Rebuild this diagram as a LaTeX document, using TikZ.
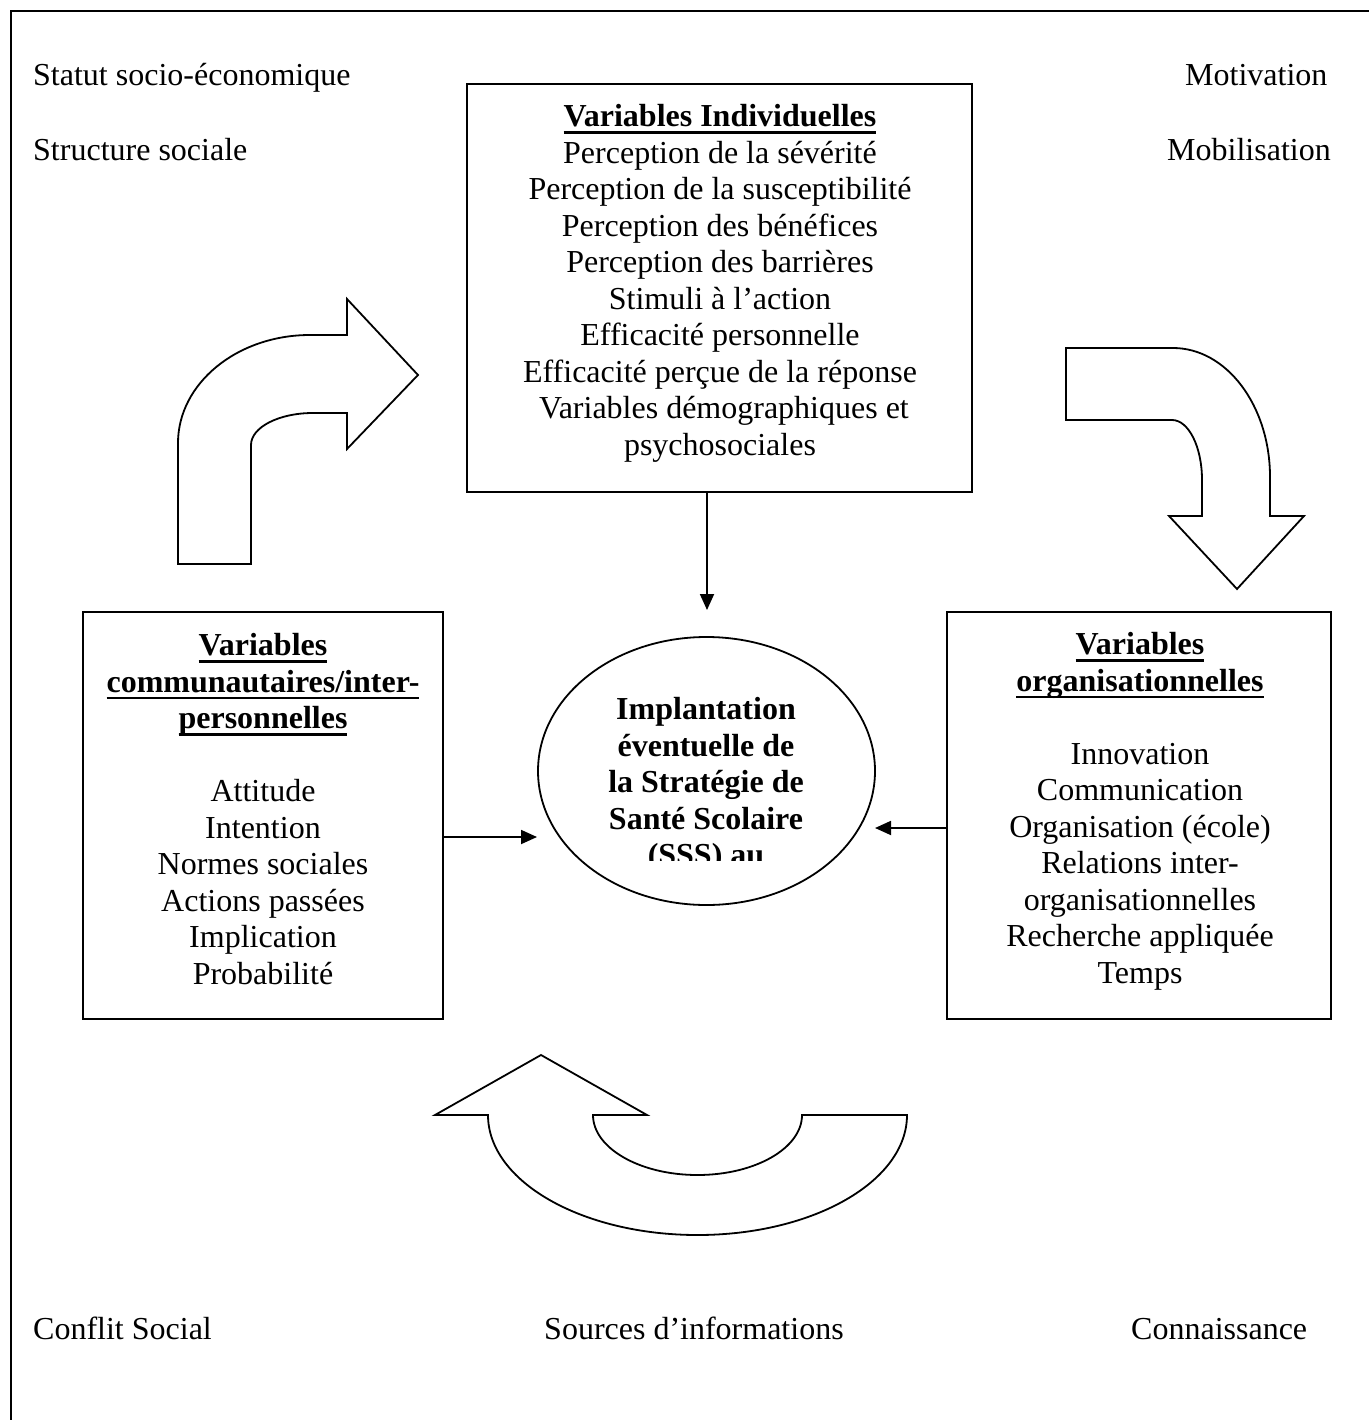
\documentclass[tikz,border=0pt]{standalone}
\usepackage{fontspec}
\setmainfont{Liberation Serif}
\usetikzlibrary{shapes.geometric,arrows.meta}

% bold heading with a thick underline
\newcommand{\ulhead}[1]{\setbox0\hbox{\bfseries #1}\leavevmode\rlap{\rule[-7pt]{\wd0}{2.6pt}}\box0}

\tikzset{
  frame/.style={line width=2.6pt},
  boxframe/.style={draw, rectangle, line width=1.8pt, inner sep=0pt},
  txt/.style={font=\fontsize{32}{36.5}\selectfont, align=center, inner sep=0pt},
  corner/.style={font=\fontsize{32}{36.5}\selectfont, inner sep=0pt, anchor=base west},
  bendarrow/.style={draw, line width=1.8pt, fill=white, line join=miter},
  link/.style={line width=1.8pt, -{Triangle[length=16pt,width=14pt]}},
}

\begin{document}
\begin{tikzpicture}[x=1pt,y=-1pt]
\useasboundingbox (0,0) rectangle (1368,1420);

% outer frame
\draw[frame] (11,1425) -- (11,11) -- (1372,11);

% corner labels
\node[corner] (statut) at (33,86) {Statut socio-économique};
\node[corner] (structure) at (33,161) {Structure sociale};
\node[corner] (motivation) at (1185,86) {Motivation};
\node[corner] (mobilisation) at (1167,161) {Mobilisation};
\node[corner] (conflit) at (33,1339) {Conflit Social};
\node[corner] (sources) at (544,1339) {Sources d’informations};
\node[corner] (connaissance) at (1131,1339) {Connaissance};

% three variable boxes
\node[boxframe, minimum width=505pt, minimum height=408pt] (topbox) at (719.5,288) {};
\node[boxframe, minimum width=360pt, minimum height=407pt] (leftbox) at (263,815.5) {};
\node[boxframe, minimum width=384pt, minimum height=407pt] (rightbox) at (1139,815.5) {};

\node[txt] (toptext) at (720,283.5) {\ulhead{Variables Individuelles}\\
  Perception de la sévérité\\
  Perception de la susceptibilité\\
  Perception des bénéfices\\
  Perception des barrières\\
  Stimuli à l’action\\
  Efficacité personnelle\\
  Efficacité perçue de la réponse\\
  \ Variables démographiques et\\
  psychosociales};

\node[txt] (lefttext) at (263,809) {\ulhead{Variables}\\
  \ulhead{communautaires/inter-}\\
  \ulhead{personnelles}\\[36.5pt]
  Attitude\\
  Intention\\
  Normes sociales\\
  Actions passées\\
  Implication\\
  Probabilité};

\node[txt] (righttext) at (1140,811.5) {\ulhead{Variables}\\
  \ulhead{organisationnelles}\\[36.5pt]
  Innovation\\
  Communication\\
  Organisation (école)\\
  Relations inter-\\
  organisationnelles\\
  Recherche appliquée\\
  Temps};

% central ellipse, its text cut off at the bottom
\node[draw, ellipse, line width=1.8pt, minimum width=337pt, minimum height=268pt, inner sep=0pt] (core) at (706.5,771) {};
\begin{scope}
  \clip (520,640) rectangle (900,860);
  \node[txt, font=\bfseries\fontsize{32}{36.5}\selectfont] (coretext) at (706,785)
    {Implantation\\ éventuelle de\\ la Stratégie de\\ Santé Scolaire\\ (SSS) au};
\end{scope}

% straight connectors
\coordinate (downtip) at (707,610);
\coordinate (lefttip) at (537,837);
\coordinate (righttip) at (875,828);
\draw[link] (downtip |- topbox.south) -- (downtip);
\draw[link] (lefttip -| leftbox.east) -- (lefttip);
\draw[link] (righttip -| rightbox.west) -- (righttip);

% bent arrow: up, then right
\draw[bendarrow] (178,564) -- (178,443)
  .. controls (178,383.4) and (237.1,335) .. (310,335)
  -- (347,335) -- (347,299) -- (418,375) -- (347,449) -- (347,413) -- (313,413)
  .. controls (278.8,413) and (251,427.3) .. (251,445)
  -- (251,564) -- cycle;

% bent arrow: right, then down
\draw[bendarrow] (1066,348) -- (1173,348)
  .. controls (1226.6,348) and (1270,405.8) .. (1270,477)
  -- (1270,516) -- (1304,516) -- (1237,589) -- (1169,516) -- (1202,516) -- (1202,480)
  .. controls (1202,446.9) and (1188.6,420) .. (1172,420)
  -- (1066,420) -- cycle;

% U-turn arrow at the bottom
\draw[bendarrow] (907,1115) -- (802,1115)
  .. controls (802,1148.1) and (755.2,1175) .. (697.5,1175)
  .. controls (639.8,1175) and (593,1148.1) .. (593,1115)
  -- (647,1115) -- (541,1055) -- (435,1115) -- (488,1115)
  .. controls (488,1181.3) and (581.8,1235) .. (697.5,1235)
  .. controls (813.2,1235) and (907,1181.3) .. (907,1115) -- cycle;
\end{tikzpicture}
\end{document}
